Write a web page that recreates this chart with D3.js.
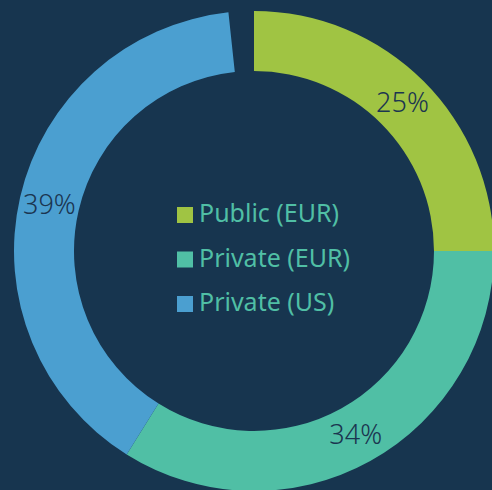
<!DOCTYPE html>
<html>
<head>
<meta charset="utf-8">
<script src="https://cdn.jsdelivr.net/npm/d3@7"></script>
<style>
  html, body { margin: 0; padding: 0; background: #17354f; overflow: hidden; }
  svg { display: block; }
</style>
</head>
<body>
<svg id="chart" width="492" height="490"></svg>
<script>
// (percent of total, the last ~2% is left empty)
const categories = ['Public (EUR)', 'Private (EUR)', 'Private (US)']
const values = [25, 33.9, 39.4]
const colors = ['#a0c443', '#50bfa5', '#4b9fd0']

const width = 492
const height = 490
const cx = 254
const cy = 251
const outerR = 240
const innerR = 180

const svg = d3.select('#chart')

const pie = d3.pie()
  .sort(null)
  .value(d => d)
  .startAngle(0)
  .endAngle(2 * Math.PI * d3.sum(values) / 100)

const arc = d3.arc()
  .innerRadius(innerR)
  .outerRadius(outerR)

const g = svg.append('g')
  .attr('transform', 'translate(' + cx + ',' + cy + ')')

const arcs = pie(values)

g.selectAll('path')
  .data(arcs)
  .enter()
  .append('path')
  .attr('d', arc)
  .attr('fill', (d, i) => colors[i])

g.selectAll('text.pct')
  .data(arcs)
  .enter()
  .append('text')
  .attr('class', 'pct')
  .attr('transform', d => 'translate(' + arc.centroid(d) + ')')
  .attr('text-anchor', 'middle')
  .attr('dy', '0.36em')
  .style('font-family', '"Noto Sans", sans-serif')
  .style('font-size', '27px')
  .style('font-weight', 300)
  .style('fill', '#1b3550')
  .text(d => Math.round(d.data) + '%')

// legend
const legendY = d3.scalePoint()
  .domain(categories)
  .range([222, 311])

const legend = svg.append('g')

const rows = legend.selectAll('g')
  .data(categories)
  .enter()
  .append('g')
  .attr('transform', d => 'translate(0,' + legendY(d) + ')')

rows.append('rect')
  .attr('x', 177)
  .attr('y', -15)
  .attr('width', 16)
  .attr('height', 16)
  .attr('fill', (d, i) => colors[i])

rows.append('text')
  .attr('x', 199)
  .attr('y', 0)
  .style('font-family', '"Noto Sans", sans-serif')
  .style('font-size', '25px')
  .style('fill', '#50bfa5')
  .text(d => d)
</script>
</body>
</html>
